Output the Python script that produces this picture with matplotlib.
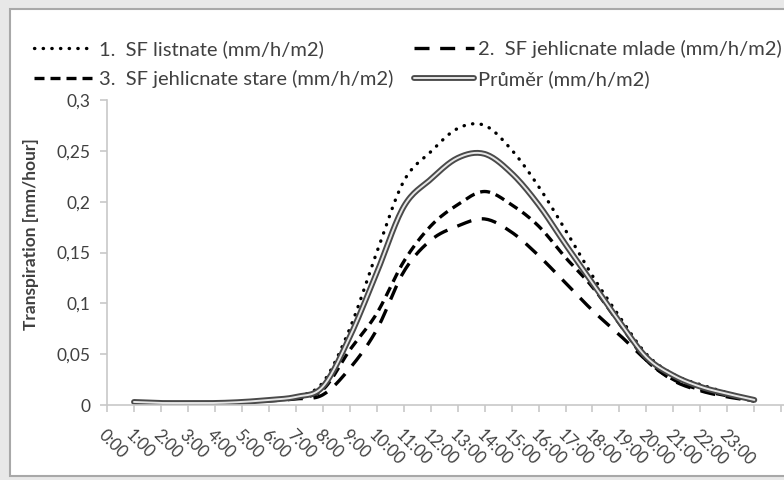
import numpy as np
import matplotlib
matplotlib.use('Agg')
import matplotlib.pyplot as plt
from matplotlib.patches import Rectangle

plt.rcParams['font.family'] = ['Lato', 'DejaVu Sans']

# --- data ---
hours = ['%d:00' % h for h in range(24)]
listnate = [0.003, 0.002, 0.002, 0.002, 0.003, 0.005, 0.008, 0.022, 0.075, 0.150,
            0.220, 0.249, 0.272, 0.275, 0.251, 0.215, 0.172, 0.127, 0.087, 0.050,
            0.030, 0.020, 0.012, 0.005]
mlade = [0.003, 0.002, 0.002, 0.002, 0.003, 0.004, 0.006, 0.010, 0.036, 0.074,
         0.131, 0.162, 0.176, 0.183, 0.170, 0.147, 0.120, 0.093, 0.069, 0.044,
         0.024, 0.014, 0.008, 0.004]
stare = [0.003, 0.002, 0.002, 0.002, 0.003, 0.005, 0.007, 0.015, 0.054, 0.090,
         0.141, 0.176, 0.197, 0.210, 0.197, 0.176, 0.145, 0.116, 0.080, 0.044,
         0.025, 0.015, 0.009, 0.004]
prumer = [0.003, 0.002, 0.002, 0.002, 0.003, 0.005, 0.008, 0.018, 0.067, 0.130,
          0.195, 0.222, 0.243, 0.247, 0.228, 0.197, 0.158, 0.120, 0.082, 0.047,
          0.029, 0.018, 0.011, 0.005]
yticks = [0, 0.05, 0.1, 0.15, 0.2, 0.25, 0.3]


def smooth(x, y, n=16):
    # Catmull-Rom, close to Excel's smoothed line
    x = np.asarray(x, float)
    y = np.asarray(y, float)
    px = np.concatenate([[x[0]], x, [x[-1]]])
    py = np.concatenate([[y[0]], y, [y[-1]]])
    t = np.linspace(0, 1, n, endpoint=False)[:, None]
    outx, outy = [], []
    for i in range(1, len(px) - 2):
        for p, out in ((px, outx), (py, outy)):
            p0, p1, p2, p3 = p[i - 1], p[i], p[i + 1], p[i + 2]
            v = 0.5 * (2 * p1 + (-p0 + p2) * t + (2 * p0 - 5 * p1 + 4 * p2 - p3) * t**2
                       + (-p0 + 3 * p1 - 3 * p2 + p3) * t**3)
            out.extend(v.ravel())
    outx.append(x[-1])
    outy.append(y[-1])
    return np.array(outx), np.array(outy)


fig = plt.figure(figsize=(7.84, 4.8), dpi=100, facecolor='#e8e8e8')
fig.patches.append(Rectangle((10 / 784, 4 / 480), 1.05, 467 / 480, transform=fig.transFigure,
                             facecolor='white', edgecolor='#a8a8a8', lw=1.5, zorder=-5))

ax = fig.add_axes([107 / 784, 75 / 480, 677 / 784, 305 / 480], zorder=2)
ax.set_facecolor('none')
xs = np.arange(len(hours))

lw = 2.4
sx, sy = smooth(xs, listnate)
l1, = ax.plot(sx, sy, color='black', lw=lw, linestyle=(0, (0.1, 2.5)),
              dash_capstyle='round')
sx, sy = smooth(xs, mlade)
l2, = ax.plot(sx, sy, color='black', lw=lw, linestyle=(0, (4.5, 3.2)))
sx, sy = smooth(xs, stare)
l3, = ax.plot(sx, sy, color='black', lw=lw, linestyle=(0, (3, 1.8)))
sx, sy = smooth(xs, prumer)
l4a, = ax.plot(sx, sy, color='#4a4a4a', lw=4.2, solid_capstyle='round')
l4b, = ax.plot(sx, sy, color='#e6e6e6', lw=1.4, solid_capstyle='round')

ax.set_xlim(-1, 24.1)
ax.set_ylim(0, 0.3)
ax.set_yticks(yticks)
ax.set_yticklabels([('%g' % v).replace('.', ',') for v in yticks], fontsize=12.5, color='#404040')
ax.set_xticks(np.arange(-1, 25))
ax.set_xticklabels([])
for i, lab in enumerate(hours):
    ax.text(i - 1, -0.07, lab, rotation=-45, ha='left', va='top', rotation_mode='anchor',
            fontsize=12, color='#404040', transform=ax.get_xaxis_transform(), clip_on=False)

for s in ['top', 'right']:
    ax.spines[s].set_visible(False)
for s in ['left', 'bottom']:
    ax.spines[s].set_color('#c8c8c8')
    ax.spines[s].set_linewidth(1.2)
ax.tick_params(axis='both', color='#c8c8c8', length=5, width=1.2)
ax.tick_params(axis='y', pad=7)

ax.set_ylabel('Transpiration [mm/hour]', fontsize=12.5, fontweight='bold', color='#404040')
ax.yaxis.set_label_coords(-0.1, 0.56)

fig.legend([l1, l3, l2, (l4a, l4b)],
           ['1.  SF listnate (mm/h/m2)', '3.  SF jehlicnate stare (mm/h/m2)',
            '2.  SF jehlicnate mlade (mm/h/m2)', 'Průměr (mm/h/m2)'],
           ncol=2, loc='upper left', bbox_to_anchor=(24 / 784, 1 - 30 / 480),
           frameon=False, fontsize=14.5, handlelength=3.0, handletextpad=0.2,
           columnspacing=1.05, labelspacing=0.6, borderpad=0, labelcolor='#404040')

fig.savefig('out.png', dpi=100, facecolor=fig.get_facecolor())
